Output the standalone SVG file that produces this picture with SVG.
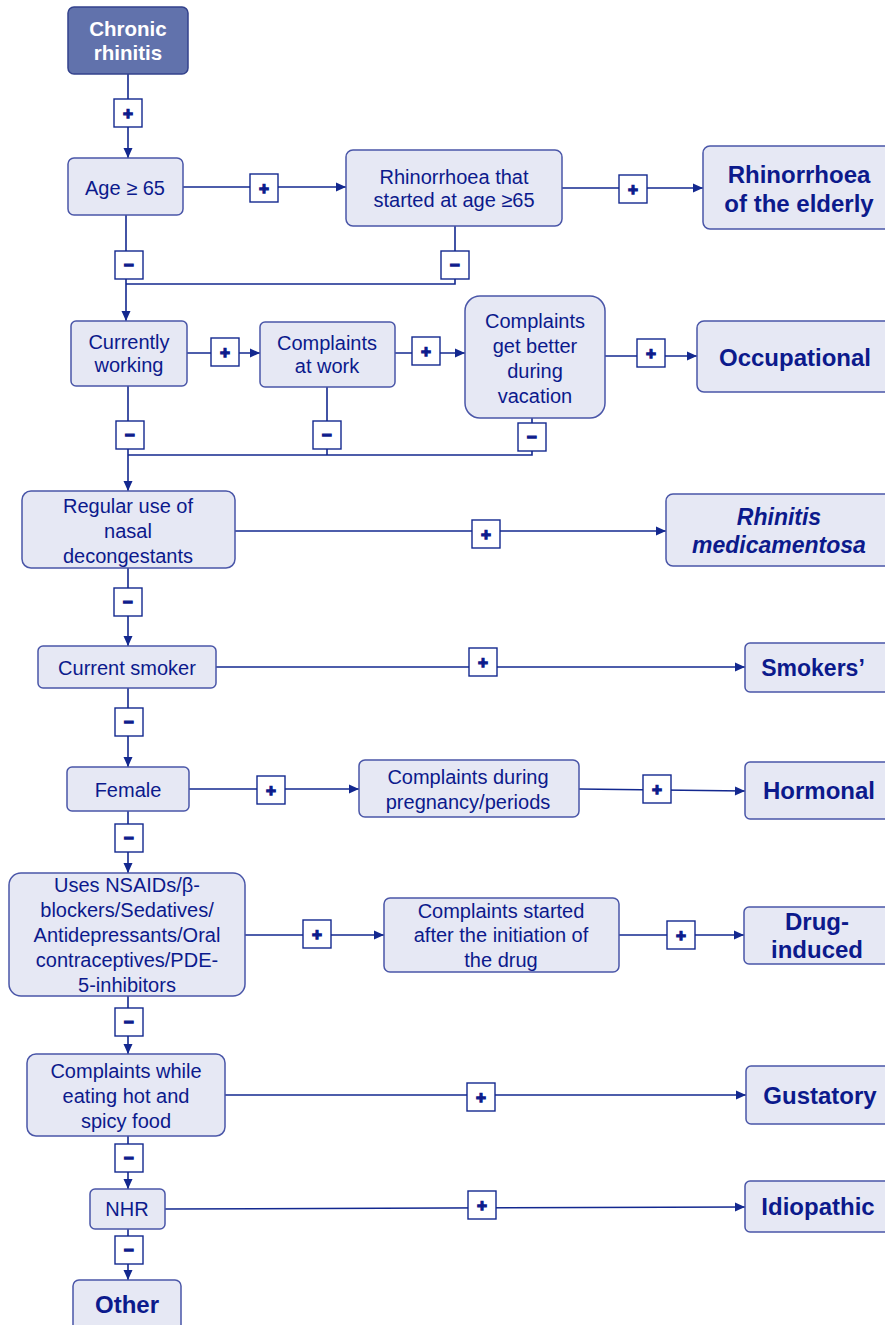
<svg xmlns="http://www.w3.org/2000/svg" width="885" height="1325" viewBox="0 0 885 1325">
<defs>
<marker id="ah" viewBox="0 0 10 10" refX="10" refY="5" markerWidth="11" markerHeight="10" markerUnits="userSpaceOnUse" orient="auto">
<path d="M0,0.5 L10,5 L0,9.5 Z" fill="#13288f"/>
</marker>
<style>
.n{fill:#e6e8f4;stroke:#4a56a8;stroke-width:1.5}
.t{font-family:"Liberation Sans",Arial,sans-serif;font-size:20px;fill:#0c1a8c;text-anchor:middle}
.b{font-family:"Liberation Sans",Arial,sans-serif;font-size:24px;font-weight:bold;fill:#0c1a8c;text-anchor:middle}
.c{fill:none;stroke:#13288f;stroke-width:1.6}
.a{marker-end:url(#ah)}
.s{fill:#ffffff;stroke:#13288f;stroke-width:1.4}
.g{font-family:"Liberation Sans",Arial,sans-serif;font-size:17px;font-weight:bold;fill:#0c1a8c;stroke:#0c1a8c;stroke-width:1.3;text-anchor:middle}
</style>
</defs>
<rect width="885" height="1325" fill="#ffffff"/>

<g id="connectors">
<path class="c a" d="M128,74 V158"/>
<path class="c a" d="M183,187 H346"/>
<path class="c a" d="M562,188 H703"/>
<path class="c a" d="M126,215 V321"/>
<path class="c" d="M126,284 H455 V226"/>
<path class="c a" d="M187,353 H260"/>
<path class="c a" d="M395,353 H465"/>
<path class="c a" d="M605,356 H697"/>
<path class="c a" d="M128,386 V491"/>
<path class="c" d="M128,455 H532 V418"/>
<path class="c" d="M327,387 V455"/>
<path class="c a" d="M235,531 H666"/>
<path class="c a" d="M128,568 V646"/>
<path class="c a" d="M216,667 H745"/>
<path class="c a" d="M128,688 V767"/>
<path class="c a" d="M189,789 H359"/>
<path class="c a" d="M579,789 L745,791"/>
<path class="c a" d="M128,811 V873"/>
<path class="c a" d="M245,935 H384"/>
<path class="c a" d="M619,935 H744"/>
<path class="c a" d="M128,996 V1054"/>
<path class="c a" d="M225,1095 H746"/>
<path class="c a" d="M128,1136 V1189"/>
<path class="c a" d="M165,1209 L745,1207"/>
<path class="c a" d="M128,1229 V1280"/>

<rect class="s" x="114" y="99" width="28" height="28"/><text class="g" x="128" y="119">+</text>
<rect class="s" x="250" y="174" width="28" height="28"/><text class="g" x="264" y="194">+</text>
<rect class="s" x="619" y="175" width="28" height="28"/><text class="g" x="633" y="195">+</text>
<rect class="s" x="115" y="251" width="28" height="28"/><text class="g" x="129" y="271">−</text>
<rect class="s" x="441" y="251" width="28" height="28"/><text class="g" x="455" y="271">−</text>
<rect class="s" x="211" y="338" width="28" height="28"/><text class="g" x="225" y="358">+</text>
<rect class="s" x="412" y="337" width="28" height="28"/><text class="g" x="426" y="357">+</text>
<rect class="s" x="637" y="339" width="28" height="28"/><text class="g" x="651" y="359">+</text>
<rect class="s" x="116" y="421" width="28" height="28"/><text class="g" x="130" y="441">−</text>
<rect class="s" x="313" y="421" width="28" height="28"/><text class="g" x="327" y="441">−</text>
<rect class="s" x="518" y="423" width="28" height="28"/><text class="g" x="532" y="443">−</text>
<rect class="s" x="472" y="520" width="28" height="28"/><text class="g" x="486" y="540">+</text>
<rect class="s" x="114" y="588" width="28" height="28"/><text class="g" x="128" y="608">−</text>
<rect class="s" x="469" y="648" width="28" height="28"/><text class="g" x="483" y="668">+</text>
<rect class="s" x="115" y="708" width="28" height="28"/><text class="g" x="129" y="728">−</text>
<rect class="s" x="257" y="776" width="28" height="28"/><text class="g" x="271" y="796">+</text>
<rect class="s" x="643" y="775" width="28" height="28"/><text class="g" x="657" y="795">+</text>
<rect class="s" x="115" y="824" width="28" height="28"/><text class="g" x="129" y="844">−</text>
<rect class="s" x="303" y="920" width="28" height="28"/><text class="g" x="317" y="940">+</text>
<rect class="s" x="667" y="921" width="28" height="28"/><text class="g" x="681" y="941">+</text>
<rect class="s" x="115" y="1008" width="28" height="28"/><text class="g" x="129" y="1028">−</text>
<rect class="s" x="467" y="1083" width="28" height="28"/><text class="g" x="481" y="1103">+</text>
<rect class="s" x="115" y="1144" width="28" height="28"/><text class="g" x="129" y="1164">−</text>
<rect class="s" x="468" y="1191" width="28" height="28"/><text class="g" x="482" y="1211">+</text>
<rect class="s" x="115" y="1236" width="28" height="28"/><text class="g" x="129" y="1256">−</text>
</g>

<g id="chronic">
<rect x="68" y="7" width="120" height="67" rx="6" fill="#6172ac" stroke="#33428c" stroke-width="1.5"/>
<text class="b" style="fill:#ffffff;font-size:20.5px" x="128" y="36">Chronic</text>
<text class="b" style="fill:#ffffff;font-size:20.5px" x="128" y="60">rhinitis</text>
</g>

<g id="age65">
<rect class="n" x="68" y="158" width="115" height="57" rx="6"/>
<text class="t" x="125" y="195">Age ≥ 65</text>
</g>

<g id="rhinorrhoea65">
<rect class="n" x="346" y="150" width="216" height="76" rx="7"/>
<text class="t" x="454" y="184">Rhinorrhoea that</text>
<text class="t" x="454" y="207">started at age ≥65</text>
</g>

<g id="elderly">
<rect class="n" x="703" y="146" width="190" height="83" rx="7"/>
<text class="b" x="799" y="183">Rhinorrhoea</text>
<text class="b" x="799" y="212">of the elderly</text>
</g>

<g id="working">
<rect class="n" x="71" y="321" width="116" height="65" rx="5"/>
<text class="t" x="129" y="349">Currently</text>
<text class="t" x="129" y="372">working</text>
</g>

<g id="atwork">
<rect class="n" x="260" y="322" width="135" height="65" rx="5"/>
<text class="t" x="327" y="350">Complaints</text>
<text class="t" x="327" y="373">at work</text>
</g>

<g id="vacation">
<rect class="n" x="465" y="296" width="140" height="122" rx="15"/>
<text class="t" x="535" y="328">Complaints</text>
<text class="t" x="535" y="353">get better</text>
<text class="t" x="535" y="378">during</text>
<text class="t" x="535" y="403">vacation</text>
</g>

<g id="occupational">
<rect class="n" x="697" y="321" width="196" height="71" rx="7"/>
<text class="b" x="795" y="366">Occupational</text>
</g>

<g id="decongestants">
<rect class="n" x="22" y="491" width="213" height="77" rx="9"/>
<text class="t" x="128" y="513">Regular use of</text>
<text class="t" x="128" y="538">nasal</text>
<text class="t" x="128" y="563">decongestants</text>
</g>

<g id="medicamentosa">
<rect class="n" x="666" y="494" width="227" height="72" rx="7"/>
<text class="b" style="font-style:italic;font-size:23px" x="779" y="525">Rhinitis</text>
<text class="b" style="font-style:italic;font-size:23px" x="779" y="553">medicamentosa</text>
</g>

<g id="smoker">
<rect class="n" x="38" y="646" width="178" height="42" rx="5"/>
<text class="t" x="127" y="675">Current smoker</text>
</g>

<g id="smokers">
<rect class="n" x="745" y="643" width="148" height="49" rx="5"/>
<text class="b" style="font-size:23px" x="813" y="676">Smokers’</text>
</g>

<g id="female">
<rect class="n" x="67" y="767" width="122" height="44" rx="5"/>
<text class="t" x="128" y="797">Female</text>
</g>

<g id="pregnancy">
<rect class="n" x="359" y="760" width="220" height="57" rx="6"/>
<text class="t" x="468" y="784">Complaints during</text>
<text class="t" x="468" y="809">pregnancy/periods</text>
</g>

<g id="hormonal">
<rect class="n" x="745" y="762" width="148" height="57" rx="5"/>
<text class="b" x="819" y="799">Hormonal</text>
</g>

<g id="drugs">
<rect class="n" x="9" y="873" width="236" height="123" rx="12"/>
<text class="t" x="127" y="892">Uses NSAIDs/β-</text>
<text class="t" x="127" y="917">blockers/Sedatives/</text>
<text class="t" x="127" y="942">Antidepressants/Oral</text>
<text class="t" x="127" y="967">contraceptives/PDE-</text>
<text class="t" x="127" y="992">5-inhibitors</text>
</g>

<g id="initiation">
<rect class="n" x="384" y="898" width="235" height="74" rx="6"/>
<text class="t" x="501" y="918">Complaints started</text>
<text class="t" x="501" y="942">after the initiation of</text>
<text class="t" x="501" y="967">the drug</text>
</g>

<g id="druginduced">
<rect class="n" x="744" y="907" width="149" height="57" rx="5"/>
<text class="b" x="817" y="930">Drug-</text>
<text class="b" x="817" y="958">induced</text>
</g>

<g id="spicy">
<rect class="n" x="27" y="1054" width="198" height="82" rx="9"/>
<text class="t" x="126" y="1078">Complaints while</text>
<text class="t" x="126" y="1103">eating hot and</text>
<text class="t" x="126" y="1128">spicy food</text>
</g>

<g id="gustatory">
<rect class="n" x="746" y="1066" width="147" height="58" rx="5"/>
<text class="b" x="820" y="1104">Gustatory</text>
</g>

<g id="nhr">
<rect class="n" x="90" y="1189" width="75" height="40" rx="5"/>
<text class="t" x="127" y="1216">NHR</text>
</g>

<g id="idiopathic">
<rect class="n" x="745" y="1181" width="148" height="51" rx="5"/>
<text class="b" x="818" y="1215">Idiopathic</text>
</g>

<g id="other">
<rect class="n" x="73" y="1280" width="108" height="52" rx="6"/>
<text class="b" x="127" y="1313">Other</text>
</g>
</svg>
